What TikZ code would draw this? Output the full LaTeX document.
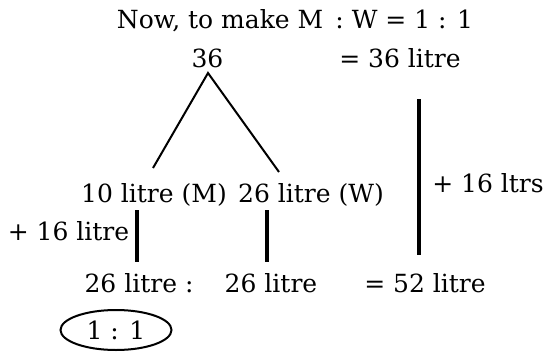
\documentclass[tikz,border=0pt]{standalone}
\usepackage{fontspec}
\setmainfont{DejaVu Serif}
\usetikzlibrary{shapes.geometric}
\begin{document}
\begin{tikzpicture}[x=1pt,y=-1pt,
  txt/.style={anchor=base,inner sep=0pt,font=\fontsize{25}{30}\selectfont},
  thin line/.style={line width=2pt},
  thick line/.style={line width=3.2pt},
  ring/.style={ellipse,draw,line width=2pt,minimum width=111pt,minimum height=40pt,inner sep=0pt,font=\fontsize{25}{30}\selectfont}]
\useasboundingbox (0,0) rectangle (543,351);
\node[txt] (title) at (295,28) {Now, to make M\, : W = 1 : 1};
\node[txt] (top) at (207.5,67) {36};
\node[txt] (total1) at (400,67) {= 36 litre};
\node[txt] (m) at (154,202) {10 litre (M)};
\node[txt] (w) at (311,202) {26 litre (W)};
\node[txt] (add) at (488,192) {+ 16 ltrs};
\node[txt] (addm) at (68.5,240) {+ 16 litre};
\node[txt] (m2) at (139,292) {26 litre :};
\node[txt] (w2) at (271,292) {26 litre};
\node[txt] (total2) at (425,292) {= 52 litre};
\node[ring] (ratio) at (116,330) {1 : 1};
% tree
\coordinate (apex) at (208,73);
\coordinate (lend) at (153,168);
\coordinate (rend) at (279,172);
\draw[thin line] (lend) -- (apex) -- (rend);
% verticals
\coordinate (v1a) at (137,210); \coordinate (v1b) at (137,262);
\coordinate (v2a) at (267,210); \coordinate (v2b) at (267,262);
\coordinate (v3a) at (419,99); \coordinate (v3b) at (419,255);
\draw[thick line] (v1a) -- (v1b);
\draw[thick line] (v2a) -- (v2b);
\draw[thick line] (v3a) -- (v3b);
\end{tikzpicture}
\end{document}
